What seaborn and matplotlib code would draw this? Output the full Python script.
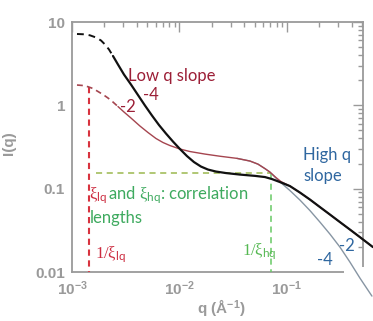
import matplotlib
matplotlib.use("Agg")
import matplotlib.pyplot as plt
import matplotlib.patches as mpatches
import seaborn as sns
import numpy as np
import pandas as pd
from matplotlib.ticker import FixedLocator, FixedFormatter, LogLocator, NullFormatter

# ---------------- data ----------------
black_dash_q = [1.113e-3, 1.293e-3, 1.470e-3, 1.672e-3, 1.862e-3, 2.028e-3, 2.209e-3, 2.406e-3]
black_dash_I = [7.18, 7.12, 6.92, 6.52, 6.00, 5.37, 4.68, 3.91]

black_q = [2.406e-3, 2.678e-3, 3.046e-3, 3.538e-3, 4.111e-3, 4.776e-3, 5.549e-3, 6.447e-3,
           7.489e-3, 8.701e-3, 1.011e-2, 1.174e-2, 1.364e-2, 1.585e-2, 1.841e-2, 2.185e-2,
           2.707e-2, 3.654e-2, 5.039e-2, 6.243e-2, 7.252e-2, 8.607e-2, 0.1066, 0.1321,
           0.1637, 0.2028, 0.2512, 0.3112, 0.3855, 0.4776, 0.631]
black_I = [3.91, 3.089, 2.342, 1.777, 1.329, 0.9945, 0.7544, 0.5801,
           0.4586, 0.3676, 0.2988, 0.2462, 0.2086, 0.1842, 0.1696, 0.1605,
           0.1539, 0.1476, 0.1424, 0.1378, 0.1304, 0.1200, 0.1074, 0.0898,
           0.0740, 0.0601, 0.0489, 0.0397, 0.0323, 0.0262, 0.0199]

red_dash_q = [1.113e-3, 1.266e-3, 1.409e-3, 1.568e-3, 1.745e-3, 1.943e-3, 2.163e-3, 2.406e-3, 2.678e-3]
red_dash_I = [1.753, 1.729, 1.672, 1.591, 1.465, 1.348, 1.224, 1.095, 0.967]

red_q = [2.678e-3, 3.046e-3, 3.538e-3, 4.291e-3, 5.093e-3, 6.045e-3, 7.023e-3, 8.159e-3,
         1.011e-2, 1.252e-2, 1.727e-2, 2.380e-2, 3.426e-2, 4.527e-2, 5.373e-2, 6.243e-2,
         6.947e-2, 7.901e-2, 8.794e-2, 0.1066, 0.1321, 0.1637, 0.2028, 0.2512,
         0.3112, 0.3855, 0.4776, 0.631]
red_I = [0.967, 0.831, 0.704, 0.564, 0.472, 0.400, 0.358, 0.329,
         0.299, 0.279, 0.260, 0.245, 0.231, 0.2145, 0.197, 0.174,
         0.158, 0.136, 0.1217, 0.1074, 0.0898, 0.0740, 0.0601, 0.0489,
         0.0397, 0.0323, 0.0262, 0.0199]

grey_q = [3.426e-2, 4.527e-2, 5.373e-2, 6.243e-2, 6.947e-2, 7.901e-2, 8.984e-2, 0.1066,
          0.1321, 0.1637, 0.2028, 0.2512, 0.3112, 0.3855, 0.4776, 0.6176]
grey_I = [0.231, 0.2145, 0.197, 0.174, 0.158, 0.134, 0.1151, 0.0949,
          0.0730, 0.0546, 0.0397, 0.0285, 0.0199, 0.01315, 0.00845, 0.00514]

xi_lq_q = [1.44e-3, 1.44e-3]
xi_lq_I = [1.67, 0.01]
xi_hq_q = [7.1e-2, 7.1e-2]
xi_hq_I = [0.153, 0.01]
plateau_q = [1.67e-3, 7.1e-2]
plateau_I = [0.153, 0.153]

x_ticks = [1e-3, 1e-2, 1e-1]
x_ticklabels = [r"$\mathbf{10^{-3}}$", r"$\mathbf{10^{-2}}$", r"$\mathbf{10^{-1}}$"]
y_ticks = [0.01, 0.1, 1, 10]
y_ticklabels = ["0.01", "0.1", "1", "10"]

# ---------------- style ----------------
sns.set_theme(style="white")
plt.rcParams["font.family"] = ["Lato", "DejaVu Sans"]
plt.rcParams["mathtext.fontset"] = "custom"
plt.rcParams["mathtext.rm"] = "Liberation Serif"
plt.rcParams["mathtext.it"] = "Liberation Serif:italic"
plt.rcParams["mathtext.sf"] = "Lato"
plt.rcParams["mathtext.bf"] = "Liberation Sans:bold"

W, H = 373, 321
fig = plt.figure(figsize=(W / 100, H / 100), dpi=100)
ax = fig.add_axes([72 / W, 1 - 272 / H, (363 - 72) / W, (272 - 22) / H])

GREY = "#9a9a9a"
BLACK = "#111111"
RED_THIN = "#a5454f"
GREY_LINE = "#8795a3"
RED_DASH = "#d8333f"
GREEN_H = "#9bb84e"
GREEN_V = "#67c964"

def line(q, I, **kw):
    df = pd.DataFrame({"q": q, "I": I})
    sns.lineplot(data=df, x="q", y="I", ax=ax, estimator=None, sort=False,
                 clip_on=False, zorder=3, **kw)

# guide lines
line(xi_lq_q, xi_lq_I, color=RED_DASH, lw=1.5, dashes=(3, 2.2))
line(plateau_q, plateau_I, color=GREEN_H, lw=1.1, dashes=(4, 3))
line(xi_hq_q, xi_hq_I, color=GREEN_V, lw=1.1, dashes=(4, 3))

# curves
line(grey_q, grey_I, color=GREY_LINE, lw=1.0)
line(red_q, red_I, color=RED_THIN, lw=1.0)
line(red_dash_q, red_dash_I, color=RED_THIN, lw=1.2, dashes=(3.5, 2.5))
line(black_q, black_I, color=BLACK, lw=1.6)
line(black_dash_q, black_dash_I, color=BLACK, lw=1.4, dashes=(3.5, 2.5))

ax.set_xscale("log")
ax.set_yscale("log")
ax.set_xlim(1e-3, 0.51)
ax.set_ylim(0.01, 10)

ax.xaxis.set_major_locator(FixedLocator(x_ticks))
ax.xaxis.set_major_formatter(FixedFormatter(x_ticklabels))
ax.yaxis.set_major_locator(FixedLocator(y_ticks))
ax.yaxis.set_major_formatter(FixedFormatter(y_ticklabels))
ax.xaxis.set_minor_locator(LogLocator(base=10, subs=np.arange(2, 10), numticks=20))
ax.yaxis.set_minor_locator(LogLocator(base=10, subs=np.arange(2, 10), numticks=20))
ax.xaxis.set_minor_formatter(NullFormatter())
ax.yaxis.set_minor_formatter(NullFormatter())

ax.tick_params(which="both", direction="in", top=True, right=True,
               color=GREY, width=1.0)
ax.tick_params(which="major", length=7, pad=5)
ax.tick_params(which="minor", length=3.5)
for lab in ax.get_xticklabels() + ax.get_yticklabels():
    lab.set_color(GREY)
    lab.set_fontsize(11)
    lab.set_fontfamily("Liberation Sans")
    lab.set_fontweight("bold")
for s in ax.spines.values():
    s.set_color(GREY)
    s.set_linewidth(1.3)

# blank gap of the axis frame at the lower right corner (as in the reference)
ax.add_patch(mpatches.Rectangle((344 / W, 1 - 276 / H), 22 / W, 9 / H,
                                transform=fig.transFigure, facecolor="white",
                                edgecolor="none", clip_on=False, zorder=2.8))

ax.set_xlabel("")
ax.set_ylabel("")
fig.text(221 / W, 1 - 307 / H, r"q (Å$^{\mathbf{-1}}$)", color=GREY, fontsize=11,
         family="Liberation Sans", weight="bold", ha="center", va="center")
fig.text(9 / W, 1 - 143 / H, "I(q)", color=GREY, fontsize=11, rotation=90,
         family="Liberation Sans", weight="bold", ha="center", va="center")

def T(x, y, s, color, size=12, **kw):
    fig.text(x / W, 1 - y / H, s, color=color, fontsize=size, va="center", **kw)

DARKRED = "#9c1f37"
RED = "#cc2b3f"
GREEN = "#3eaa5f"
GREEN2 = "#55b852"
BLUE = "#2f67a0"

T(128, 76, "Low q slope", DARKRED)
T(143, 95, "-4", DARKRED)
T(120, 107, "-2", DARKRED)

T(89, 196, r"$\mathrm{\xi}_{\mathsf{lq}}$", RED, size=12)
T(108, 195, r"and $\mathrm{\xi}_{\mathsf{hq}}$: correlation", GREEN, size=12)
T(90, 218, "lengths", GREEN, size=12)
T(95, 255, r"$\mathrm{1/\xi}_{\mathsf{lq}}$", RED, size=12)
T(242, 252, r"$\mathrm{1/\xi}_{\mathsf{hq}}$", GREEN2, size=12)

T(303, 155, "High q", BLUE)
T(303, 176, "slope", BLUE)
T(339, 246, "-2", BLUE)
T(317, 260, "-4", BLUE)

fig.savefig("out.png", dpi=100)
